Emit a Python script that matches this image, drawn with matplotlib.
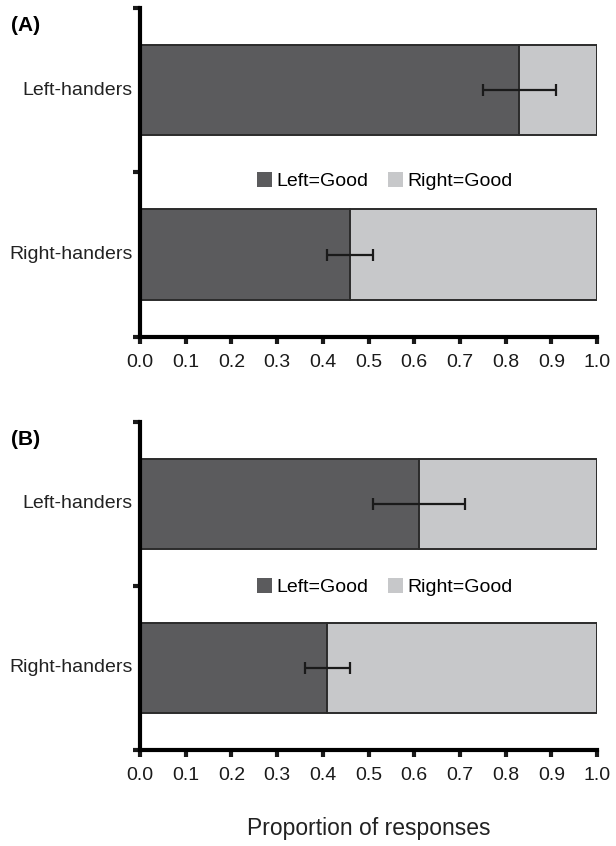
import numpy as np
import matplotlib.pyplot as plt
from matplotlib.patches import Patch

plt.rcParams['font.family'] = ['Liberation Sans', 'DejaVu Sans']

groups = ['Right-handers', 'Left-handers']
series = ['Left=Good', 'Right=Good']

# proportion of "Left=Good" responses, per panel (Right-handers, Left-handers)
left_good_a = [0.46, 0.83]
err_lo_a = [0.41, 0.75]
err_hi_a = [0.51, 0.91]

left_good_b = [0.41, 0.61]
err_lo_b = [0.36, 0.51]
err_hi_b = [0.46, 0.71]

xticks = [0.0, 0.1, 0.2, 0.3, 0.4, 0.5, 0.6, 0.7, 0.8, 0.9, 1.0]

dark = '#5b5b5d'
light = '#c7c8ca'
edge = '#2b2b2b'


def draw_panel(ax, left_good, err_lo, err_hi, tag, legend_y):
    y = np.arange(len(groups)) + 0.5
    left_good = np.array(left_good)
    right_good = 1.0 - left_good
    ax.barh(y, left_good, height=0.55, color=dark, edgecolor=edge, linewidth=1.4)
    ax.barh(y, right_good, left=left_good, height=0.55, color=light,
            edgecolor=edge, linewidth=1.4)
    lo = left_good - np.array(err_lo)
    hi = np.array(err_hi) - left_good
    ax.errorbar(left_good, y, xerr=[lo, hi], fmt='none', ecolor='#1a1a1a',
                elinewidth=1.6, capsize=4, capthick=1.6)

    ax.set_xlim(0, 1.0)
    ax.set_ylim(0, 2)
    ax.set_xticks(xticks)
    ax.set_xticklabels([f'{t:.1f}' for t in xticks], fontsize=14)
    ax.set_yticks([0, 1, 2])
    ax.set_yticklabels([])
    for yy, g in zip(y, groups):
        ax.text(-0.016, yy, g, ha='right', va='center', fontsize=14,
                color='#222222', transform=ax.transData)
    ax.spines['top'].set_visible(False)
    ax.spines['right'].set_visible(False)
    ax.spines['left'].set_linewidth(3)
    ax.spines['bottom'].set_linewidth(3)
    ax.tick_params(axis='both', width=3, length=5, color='#1a1a1a')
    ax.tick_params(axis='x', pad=7, colors='#1a1a1a')

    handles = [Patch(facecolor=dark, edgecolor='none'),
               Patch(facecolor=light, edgecolor='none')]
    ax.legend(handles, series, loc='center', bbox_to_anchor=(0.535, legend_y),
              ncol=2, frameon=False, fontsize=14, handlelength=0.8,
              handleheight=0.8, handletextpad=0.2, columnspacing=1.0)
    ax.text(-0.282, 0.948, tag, transform=ax.transAxes, fontsize=15,
            fontweight='bold', ha='left', va='center')


fig = plt.figure(figsize=(6.16, 8.46), dpi=100)
ax_a = fig.add_axes([0.2273, 0.6017, 0.742, 0.3889])
ax_b = fig.add_axes([0.2273, 0.1135, 0.742, 0.3877])

draw_panel(ax_a, left_good_a, err_lo_a, err_hi_a, '(A)', 0.474)
draw_panel(ax_b, left_good_b, err_lo_b, err_hi_b, '(B)', 0.497)

fig.text(0.598, 0.021, 'Proportion of responses', ha='center', va='center',
         fontsize=16.5, color='#222222')

fig.savefig('out.png', dpi=100)
